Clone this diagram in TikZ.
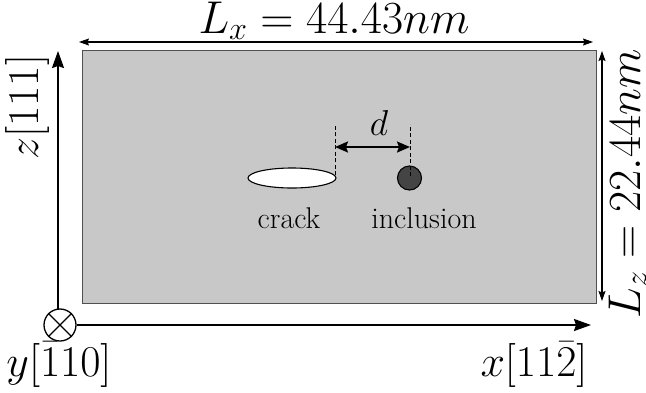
\RequirePackage{fix-cm}
\documentclass[tikz,border=0pt]{standalone}
\usetikzlibrary{arrows.meta}
\begin{document}
\begin{tikzpicture}[x=1pt,y=-1pt,
  big/.style={font=\fontsize{44}{48}\selectfont, inner sep=0pt},
  dimlab/.style={font=\fontsize{46}{50}\selectfont, inner sep=0pt},
  dlab/.style={font=\fontsize{36}{40}\selectfont, inner sep=0pt},
  med/.style={font=\fontsize{30}{34}\selectfont, inner sep=0pt},
  dimarrow/.style={line width=1.1pt,{Stealth[length=10pt,width=7pt,inset=1.5pt]}-{Stealth[length=10pt,width=7pt,inset=1.5pt]}},
  darrow/.style={line width=2pt,{Stealth[length=13pt,width=11pt,inset=2pt]}-{Stealth[length=13pt,width=11pt,inset=2pt]}},
  axis/.style={line width=1.8pt,-{Stealth[length=17pt,width=12pt,inset=2pt]}},
  dashline/.style={dashed, dash pattern=on 4pt off 2.5pt, line width=0.8pt}]
\useasboundingbox (0,0) rectangle (646,392);
\definecolor{boxgray}{RGB}{200,200,200}
\definecolor{boxedge}{RGB}{80,80,80}
\definecolor{incl}{RGB}{68,68,68}
% box
\node[draw=boxedge, line width=1.3pt, fill=boxgray, minimum width=514pt, minimum height=253pt, inner sep=0pt, anchor=north west] (box) at (82,50) {};
% top dimension
\coordinate (tl) at (79,42);
\coordinate (tr) at (593,42);
\draw[dimarrow] (tl) -- (tr);
\node[dimlab, anchor=base] (lx) at (334,33) {$L_x = 44.43nm$};
% right dimension
\coordinate (rt) at (602,51);
\coordinate (rb) at (602,301);
\draw[dimarrow] (rt) -- (rb);
\node[dimlab, rotate=90, anchor=base] (lz) at (640,184) {$L_z = 22.44nm$};
% axes
\node[draw, circle, line width=1.3pt, minimum size=32pt, inner sep=0pt] (oy) at (60,325) {};
\draw[line width=1.3pt] (oy.north east) -- (oy.south west) (oy.north west) -- (oy.south east);
\coordinate (ztop) at (58,51);
\coordinate (zb) at (58,309);
\draw[axis] (zb) -- (ztop);
\coordinate (xs) at (77,325);
\coordinate (xend) at (591,325);
\draw[axis] (xs) -- (xend);
\node[big, rotate=90, anchor=base] (zl) at (38,107) {$z[111]$};
\node[big, anchor=base] (yl) at (59,376) {$y[\bar{1}10]$};
\node[big, anchor=base] (xl) at (534,376) {$x[11\bar{2}]$};
% crack and inclusion
\draw[line width=1.1pt, fill=white] (292,178) ellipse (44pt and 10pt);
\coordinate (crackend) at (335,175);
\node[draw, line width=1.1pt, circle, fill=incl, minimum size=24pt, inner sep=0pt] (inc) at (409.5,178) {};
\coordinate (d1) at (335,124);
\coordinate (d2) at (410,124);
\coordinate (inctop) at (410,176);
\draw[dashline] (crackend) -- (d1);
\draw[dashline] (inctop) -- (d2);
\draw[darrow] (335,147) -- (410,147);
\node[dlab, anchor=base] (dl) at (379,135) {$d$};
\node[med, anchor=base] (ck) at (289,228) {crack};
\node[med, anchor=base] (il) at (424,228) {inclusion};
\end{tikzpicture}
\end{document}
